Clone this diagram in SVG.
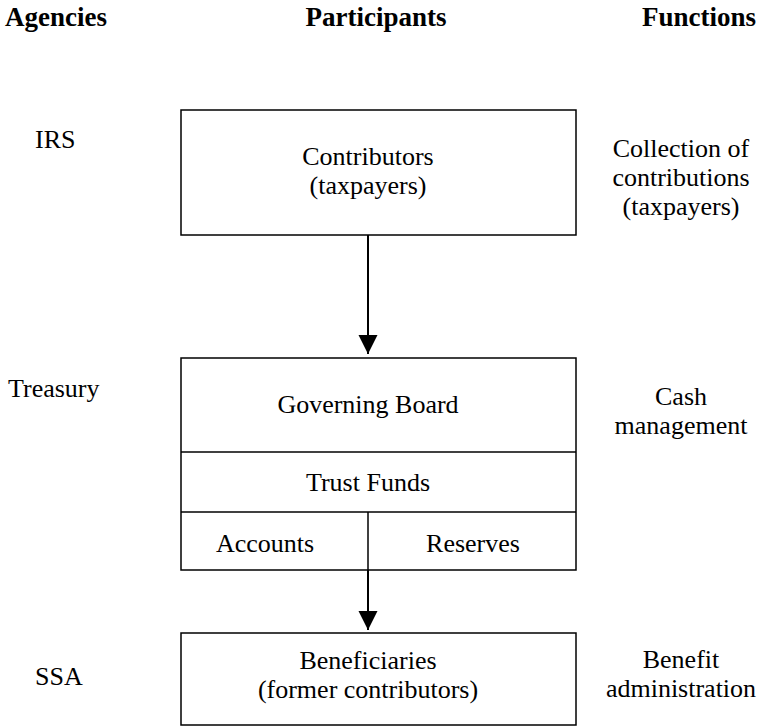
<svg xmlns="http://www.w3.org/2000/svg" width="765" height="728" viewBox="0 0 765 728">
<style>
text{font-family:"Liberation Serif","Times New Roman",serif;font-size:26px;fill:#000}
.h{font-weight:bold;font-size:27px}
.c{text-anchor:middle}
rect,line{fill:none;stroke:#000;stroke-width:1.5}
.conn line{stroke-width:2}
</style>
<defs>
<marker id="a" markerWidth="19" markerHeight="20" refX="19" refY="10" orient="auto" markerUnits="userSpaceOnUse"><path d="M0,0.5 L19,10 L0,19.5 z" fill="#000"/></marker>
</defs>
<g id="headers">
<text class="h" x="5" y="26">Agencies</text>
<text class="h c" x="376" y="26">Participants</text>
<text class="h c" x="699" y="26">Functions</text>
</g>
<g id="agencies">
<text x="35" y="148">IRS</text>
<text x="8" y="397">Treasury</text>
<text x="35" y="685">SSA</text>
</g>
<g id="functions">
<text class="c" x="681" y="157">Collection of</text>
<text class="c" x="681" y="186">contributions</text>
<text class="c" x="681" y="215">(taxpayers)</text>
<text class="c" x="681" y="405">Cash</text>
<text class="c" x="681" y="434">management</text>
<text class="c" x="681" y="668">Benefit</text>
<text class="c" x="681" y="697">administration</text>
</g>
<g id="contributors">
<rect x="181" y="110" width="395" height="125"/>
<text class="c" x="368" y="165">Contributors</text>
<text class="c" x="368" y="194">(taxpayers)</text>
</g>
<g id="treasury-box">
<rect x="181" y="358" width="395" height="212"/>
<line x1="181" y1="452" x2="576" y2="452"/>
<line x1="181" y1="512" x2="576" y2="512"/>
<line x1="368" y1="512" x2="368" y2="570"/>
<text class="c" x="368" y="413">Governing Board</text>
<text class="c" x="368" y="491">Trust Funds</text>
<text class="c" x="265" y="552">Accounts</text>
<text class="c" x="473" y="552">Reserves</text>
</g>
<g id="beneficiaries">
<rect x="181" y="633" width="395" height="92"/>
<text class="c" x="368" y="669">Beneficiaries</text>
<text class="c" x="368" y="698">(former contributors)</text>
</g>
<g class="conn" id="connectors">
<line x1="368" y1="235" x2="368" y2="354" marker-end="url(#a)"/>
<line x1="368" y1="570" x2="368" y2="630" marker-end="url(#a)"/>
</g>
</svg>
